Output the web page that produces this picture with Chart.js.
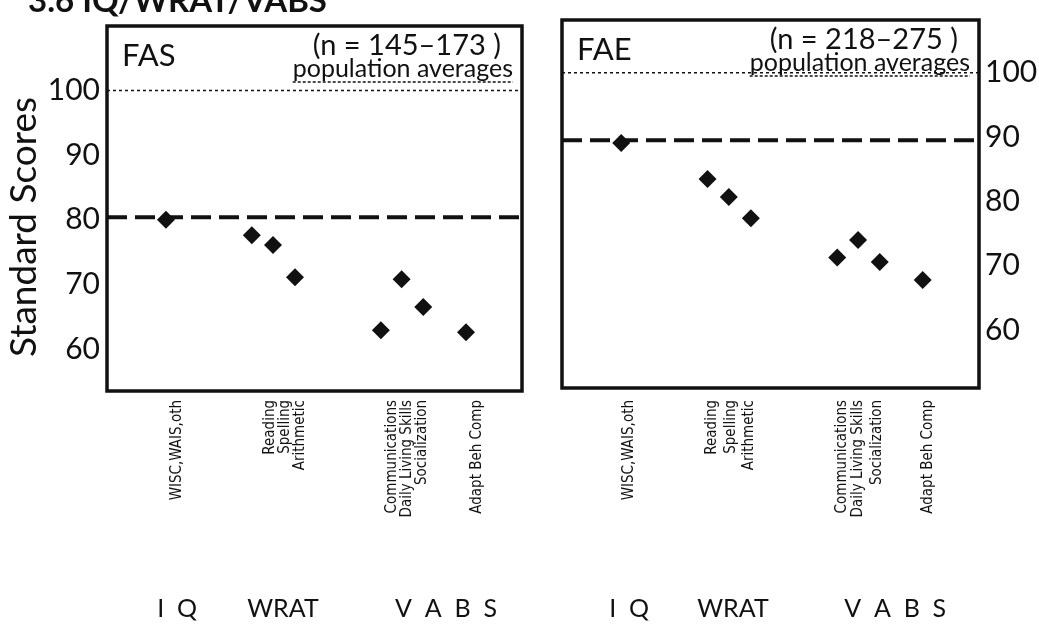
<!DOCTYPE html>
<html>
<head>
<meta charset="utf-8">
<script src="https://cdn.jsdelivr.net/npm/chart.js@4/dist/chart.umd.min.js"></script>
<style>
  body { margin: 0; background: #fff; width: 1039px; height: 642px; overflow: hidden; position: relative; }
  canvas { position: absolute; top: 0; }
  #fas { left: 0; }
  #fae { left: 545px; }
</style>
</head>
<body>
<canvas id="fas" width="545" height="642"></canvas>
<canvas id="fae" width="494" height="642"></canvas>
<script>
const categories = ["WISC,WAIS,oth", "Reading", "Spelling", "Arithmetic", "Communications", "Daily Living Skills", "Socialization", "Adapt Beh Comp"];
const pointPos = [14.2, 34.9, 40.0, 45.3, 66.0, 71.0, 76.2, 86.5];
const fasLabelPos = [16.9, 39.3, 42.9, 46.5, 68.7, 72.3, 75.9, 89.2];
const faeLabelPos = [16.1, 36.0, 40.5, 44.8, 67.1, 71.0, 75.5, 87.8];

const groups = ["I  Q", "WRAT", "V  A  B  S"];
const fasGroupPos = [16.9, 42.4, 81.7];
const faeGroupPos = [16.1, 41.0, 79.9];

const fasScores = [80.0, 77.6, 76.1, 71.1, 62.9, 70.8, 66.5, 62.6];
const faeScores = [89.1, 83.5, 80.7, 77.4, 71.3, 74.0, 70.6, 67.8];

const populationAvg = 100;
const fasIQLine = 80.4;
const faeIQLine = 89.5;
const yTicks = [60, 70, 80, 90, 100];

const ink = "#111";
const face = "Lato, 'Open Sans', sans-serif";
const narrow = "'Liberation Sans Narrow', 'DejaVu Sans Condensed', Lato, sans-serif";
Chart.defaults.font.family = face;
Chart.defaults.color = ink;

// frame, panel captions and the side title
const panelText = {
    id: "panelText",
    afterDraw(chart, args, opts) {
        const { ctx, chartArea: a } = chart;
        ctx.save();
        ctx.strokeStyle = ink;
        ctx.lineWidth = 3.5;
        ctx.strokeRect(a.left, a.top, a.right - a.left, a.bottom - a.top);

        ctx.fillStyle = ink;
        ctx.textBaseline = "alphabetic";
        ctx.textAlign = "left";
        ctx.font = "31px " + face;
        ctx.fillText(opts.name, a.left + 15, a.top + 40);

        ctx.textAlign = "right";
        ctx.font = "29px " + face;
        ctx.fillText(opts.n, a.right - 21, a.top + 29);

        ctx.font = "25px " + face;
        ctx.fillText("population averages", a.right - 9, a.top + 51);
        const w = ctx.measureText("population averages").width;
        ctx.lineWidth = 1.5;
        ctx.setLineDash([3, 2]);
        ctx.beginPath();
        ctx.moveTo(a.right - 9 - w, a.top + 56);
        ctx.lineTo(a.right - 9, a.top + 56);
        ctx.stroke();
        ctx.setLineDash([]);

        if (opts.heading) {
            ctx.textAlign = "left";
            ctx.font = "bold 33px " + face;
            ctx.fillText(opts.heading, 28, 12);
        }
        if (opts.yTitle) {
            ctx.translate(24, 227);
            ctx.rotate(-Math.PI / 2);
            ctx.textAlign = "center";
            ctx.textBaseline = "middle";
            ctx.font = "37px " + face;
            ctx.fillText(opts.yTitle, 0, 0);
        }
        ctx.restore();
    }
};

function noPad(s) {
    s.paddingLeft = 0;
    s.paddingRight = 0;
    s.paddingTop = 0;
    s.paddingBottom = 0;
}

function makePanel(id, cfg) {
    const points = pointPos.map((x, i) => ({ x: x, y: cfg.scores[i] }));

    const datasets = [
        {
            type: "line",
            data: [{ x: 0, y: populationAvg }, { x: 100, y: populationAvg }],
            borderColor: ink,
            borderWidth: 1.5,
            borderDash: [3, 3],
            pointRadius: 0
        },
        {
            type: "line",
            data: [{ x: 0, y: cfg.iqLine }, { x: 100, y: cfg.iqLine }],
            borderColor: ink,
            borderWidth: 4,
            borderDash: [20, 8],
            pointRadius: 0
        },
        {
            type: "scatter",
            data: points,
            pointStyle: "rectRot",
            pointRadius: 9,
            backgroundColor: ink,
            borderWidth: 0
        }
    ];

    const left = cfg.side === "left";

    return new Chart(document.getElementById(id), {
        type: "scatter",
        data: { datasets },
        plugins: [panelText],
        options: {
            responsive: false,
            animation: false,
            layout: { padding: cfg.padding },
            plugins: {
                legend: { display: false },
                tooltip: { enabled: false },
                panelText: { name: cfg.name, n: cfg.n, heading: cfg.heading, yTitle: cfg.yTitle }
            },
            scales: {
                x: {
                    type: "linear",
                    min: 0,
                    max: 100,
                    position: "bottom",
                    weight: 0,
                    clip: false,
                    grid: { display: false, drawTicks: false },
                    border: { display: false },
                    afterBuildTicks: s => { s.ticks = cfg.labelPos.map(v => ({ value: v })); },
                    afterFit: s => { s.height = 140; noPad(s); },
                    ticks: {
                        autoSkip: false,
                        minRotation: 90,
                        maxRotation: 90,
                        padding: cfg.labelPad,
                        font: { size: 15, family: narrow },
                        callback: (v, i) => categories[i]
                    }
                },
                x2: {
                    type: "linear",
                    min: 0,
                    max: 100,
                    position: "bottom",
                    weight: 1,
                    clip: false,
                    grid: { display: false, drawTicks: false },
                    border: { display: false },
                    afterBuildTicks: s => { s.ticks = cfg.groupPos.map(v => ({ value: v })); },
                    afterFit: s => { s.height = cfg.groupHeight; noPad(s); },
                    ticks: {
                        autoSkip: false,
                        minRotation: 0,
                        maxRotation: 0,
                        padding: cfg.groupPad,
                        font: { size: 25 },
                        callback: (v, i) => groups[i]
                    }
                },
                y: {
                    min: cfg.yMin,
                    max: cfg.yMax,
                    position: cfg.side,
                    grid: { display: false, drawTicks: false },
                    border: { display: false },
                    afterBuildTicks: s => { s.ticks = yTicks.map(v => ({ value: v })); },
                    afterFit: s => { s.width = cfg.yWidth; noPad(s); },
                    ticks: { padding: left ? 7 : 6, font: { size: 30 } }
                }
            }
        }
    });
}

makePanel("fas", {
    scores: fasScores,
    iqLine: fasIQLine,
    labelPos: fasLabelPos,
    groupPos: fasGroupPos,
    side: "left",
    yMin: 53.5,
    yMax: 110,
    yWidth: 107,
    padding: { left: 0, right: 23, top: 26, bottom: 0 },
    labelPad: 9,
    groupPad: 63,
    groupHeight: 111,
    name: "FAS",
    n: "(n = 145–173 )",
    heading: "3.6 IQ/WRAT/VABS",
    yTitle: "Standard Scores"
});

makePanel("fae", {
    scores: faeScores,
    iqLine: faeIQLine,
    labelPos: faeLabelPos,
    groupPos: faeGroupPos,
    side: "right",
    yMin: 51,
    yMax: 108.2,
    yWidth: 60,
    padding: { left: 17, right: 0, top: 20, bottom: 0 },
    labelPad: 12,
    groupPad: 66,
    groupHeight: 114,
    name: "FAE",
    n: "(n = 218–275 )",
    heading: "",
    yTitle: ""
});
</script>
</body>
</html>
